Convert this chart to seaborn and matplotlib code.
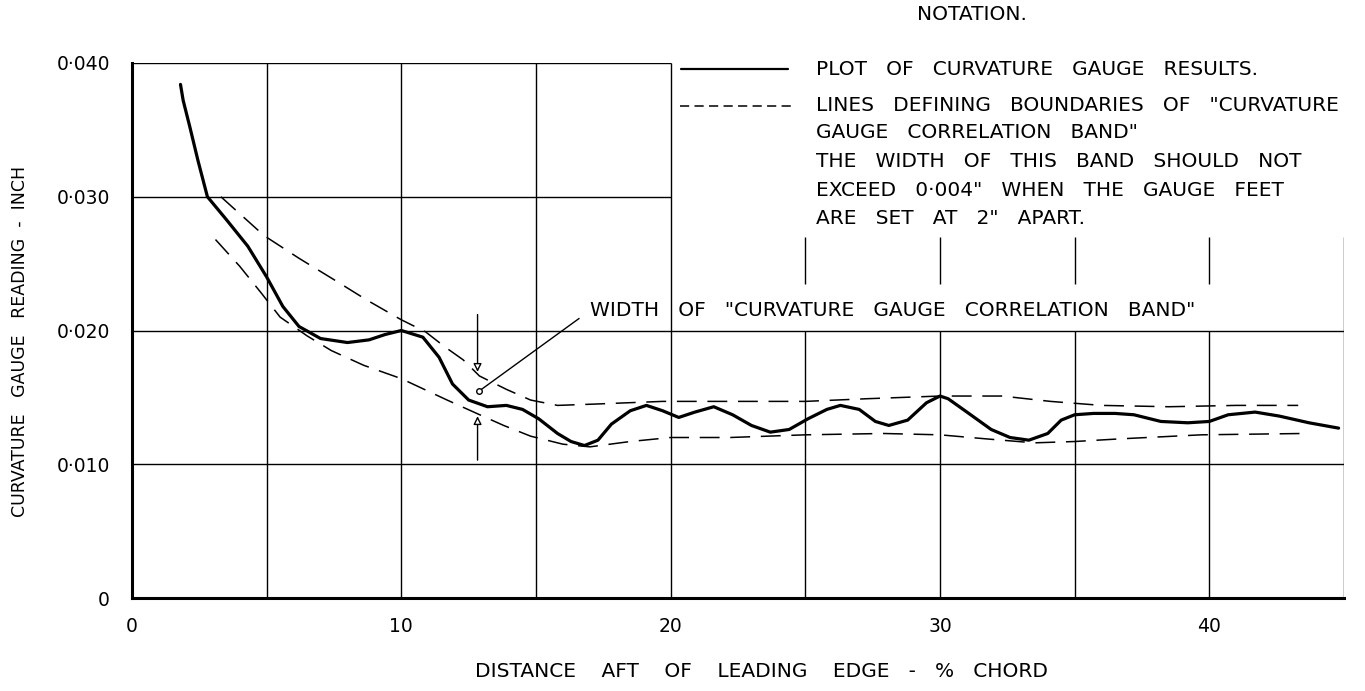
import matplotlib
matplotlib.use("Agg")
import matplotlib.pyplot as plt
import seaborn as sns

# curvature gauge results (solid curve)
gauge_x = [1.8, 1.9, 2.15, 2.45, 2.8, 3.5, 4.3, 5.0, 5.6, 6.2, 7.0,
           8.0, 8.8, 9.4, 10.0, 10.8, 11.4, 11.9, 12.5, 13.2, 13.9,
           14.5, 15.1, 15.8, 16.3, 16.8, 17.3, 17.8, 18.5, 19.1, 19.7, 20.3,
           20.9, 21.6, 22.3, 23.0, 23.7, 24.4, 25.1, 25.8, 26.3, 27.0,
           27.6, 28.1, 28.8, 29.5, 30.0, 30.3, 31.0, 31.9, 32.6, 33.3,
           34.0, 34.5, 35.0, 35.7, 36.5, 37.2, 38.2, 39.2, 40.0, 40.7,
           41.7, 42.6, 43.7, 44.8]
gauge_y = [0.0384, 0.0372, 0.0352, 0.0327, 0.0300, 0.0283, 0.0263, 0.0240, 0.0218, 0.0203, 0.0194,
           0.0191, 0.0193, 0.0197, 0.0200, 0.0195, 0.0180, 0.0160, 0.0148, 0.0143, 0.0144,
           0.0141, 0.0134, 0.0123, 0.0117, 0.0114, 0.0118, 0.0130, 0.0140, 0.0144, 0.0140, 0.0135,
           0.0139, 0.0143, 0.0137, 0.0129, 0.0124, 0.0126, 0.0134, 0.0141, 0.0144, 0.0141,
           0.0132, 0.0129, 0.0133, 0.0146, 0.0151, 0.0149, 0.0139, 0.0126, 0.0120, 0.0118,
           0.0123, 0.0133, 0.0137, 0.0138, 0.0138, 0.0137, 0.0132, 0.0131, 0.0132, 0.0137,
           0.0139, 0.0136, 0.0131, 0.0127]

# boundaries of the correlation band (dashed)
upper_x = [3.3, 4.9, 6.2, 7.5, 8.7, 10.0, 10.9, 11.6, 12.3, 12.9, 13.9, 14.8, 15.8,
           17.2, 19.7, 22.2, 25.0, 27.3, 30.0, 32.3, 34.1, 36.0, 38.5, 41.0, 43.3]
upper_y = [0.0300, 0.0271, 0.0254, 0.0238, 0.0223, 0.0208, 0.0199, 0.0188, 0.0178, 0.0166,
           0.0156, 0.0148, 0.0144, 0.0145, 0.0147, 0.0147, 0.0147, 0.0149, 0.0151, 0.0151,
           0.0147, 0.0144, 0.0143, 0.0144, 0.0144]
lower_x = [3.1, 4.0, 4.8, 5.5, 6.5, 7.4, 8.6, 10.0, 11.7, 12.8, 13.8, 14.8, 16.0,
           17.0, 18.5, 20.0, 22.2, 25.0, 27.9, 30.0, 31.7, 33.5, 35.0, 36.7, 39.7, 43.5]
lower_y = [0.0268, 0.0248, 0.0228, 0.0210, 0.0196, 0.0185, 0.0174, 0.0164, 0.0148, 0.0138,
           0.0129, 0.0121, 0.0115, 0.0113, 0.0117, 0.0120, 0.0120, 0.0122, 0.0123, 0.0122,
           0.0119, 0.0116, 0.0117, 0.0119, 0.0122, 0.0123]

x_ticks = [0, 10, 20, 30, 40]
x_tick_labels = ["0", "10", "20", "30", "40"]
y_ticks = [0, 0.010, 0.020, 0.030, 0.040]
y_tick_labels = ["0", "0·010", "0·020", "0·030", "0·040"]

notation_lines = [
    "PLOT   OF   CURVATURE   GAUGE   RESULTS.",
    'LINES   DEFINING   BOUNDARIES   OF   "CURVATURE',
    'GAUGE   CORRELATION   BAND"',
    "THE   WIDTH   OF   THIS   BAND   SHOULD   NOT",
    'EXCEED   0·004"   WHEN   THE   GAUGE   FEET',
    'ARE   SET   AT   2"   APART.',
]

sns.set_style("white")
plt.rcParams["font.family"] = ["DejaVu Sans"]
for key in ["text.color", "xtick.color", "ytick.color", "axes.labelcolor"]:
    plt.rcParams[key] = "black"

W, H = 1365, 691
fig = plt.figure(figsize=(W / 100, H / 100), dpi=100)
ax = fig.add_axes([132 / W, 1 - 598 / H, (1344 - 132) / W, (598 - 63) / H])
ax.set_xlim(0, 45)
ax.set_ylim(0, 0.040)

# hand drawn grid, broken where the notes sit
grid_kw = dict(color="black", lw=1.0, zorder=1)
ax.vlines([5, 10, 15, 20], 0, 0.040, **grid_kw)
ax.vlines([25, 30, 35, 40], 0, 0.020, **grid_kw)
ax.vlines([25, 30, 35, 40], 0.0235, 0.0270, **grid_kw)
ax.vlines(45, 0, 0.0270, **grid_kw)
ax.hlines([0.010, 0.020], 0, 45, **grid_kw)
ax.hlines([0.030, 0.040], 0, 20, **grid_kw)

sns.lineplot(x=gauge_x, y=gauge_y, ax=ax, color="black", lw=2.3,
             sort=False, estimator=None, zorder=3)
for bx, by in [(upper_x, upper_y), (lower_x, lower_y)]:
    sns.lineplot(x=bx, y=by, ax=ax, color="black", lw=1.1, sort=False,
                 estimator=None, zorder=2, linestyle=(0, (13, 7)))

# band width marker
ax.annotate("", xy=(12.83, 0.0167), xytext=(12.83, 0.0214),
            arrowprops=dict(arrowstyle="-|>", color="black", lw=1.0, fc="white", mutation_scale=12))
ax.annotate("", xy=(12.83, 0.0138), xytext=(12.83, 0.0101),
            arrowprops=dict(arrowstyle="-|>", color="black", lw=1.0, fc="white", mutation_scale=12))
ax.plot([12.88, 16.6], [0.01546, 0.0209], color="black", lw=1.0)
ax.plot([12.88], [0.01546], marker="o", ms=4, mfc="white", mec="black", mew=1.0)
ax.text(17.0, 0.0215, 'WIDTH   OF   "CURVATURE   GAUGE   CORRELATION   BAND"',
        fontsize=14.5, va="center", ha="left")

# notation block
ax.text(31.2, 0.0436, "NOTATION.", fontsize=14.5, va="center", ha="center")
ax.plot([20.4, 24.35], [0.03955, 0.03955], color="black", lw=1.6, clip_on=False)
ax.plot([20.35, 24.5], [0.03679, 0.03679], color="black", lw=1.1,
        linestyle=(0, (6, 3.5)), clip_on=False)
note_y = [0.03955, 0.03679, 0.03477, 0.03267, 0.0305, 0.02841]
for txt, ty in zip(notation_lines, note_y):
    ax.text(25.4, ty, txt, fontsize=14.5, va="center", ha="left")

ax.set_xticks(x_ticks)
ax.set_xticklabels(x_tick_labels, fontsize=13.5)
ax.set_yticks(y_ticks)
ax.set_yticklabels(y_tick_labels, fontsize=13.5)
ax.tick_params(axis="both", length=0)
ax.tick_params(axis="x", pad=14)
ax.tick_params(axis="y", pad=16)

ax.text(0.519, -0.138, "DISTANCE    AFT    OF    LEADING    EDGE   -   %   CHORD",
        transform=ax.transAxes, fontsize=14.5, ha="center", va="center")
ax.text(-0.0924, 0.48, "CURVATURE   GAUGE   READING  -  INCH",
        transform=ax.transAxes, fontsize=12.5, ha="center", va="center", rotation=90)

for side in ["top", "right"]:
    ax.spines[side].set_visible(False)
for side in ["left", "bottom"]:
    ax.spines[side].set_linewidth(2.2)
    ax.spines[side].set_color("black")
ax.set_xlabel("")
ax.set_ylabel("")

fig.savefig("out.png", dpi=100, facecolor="white")
